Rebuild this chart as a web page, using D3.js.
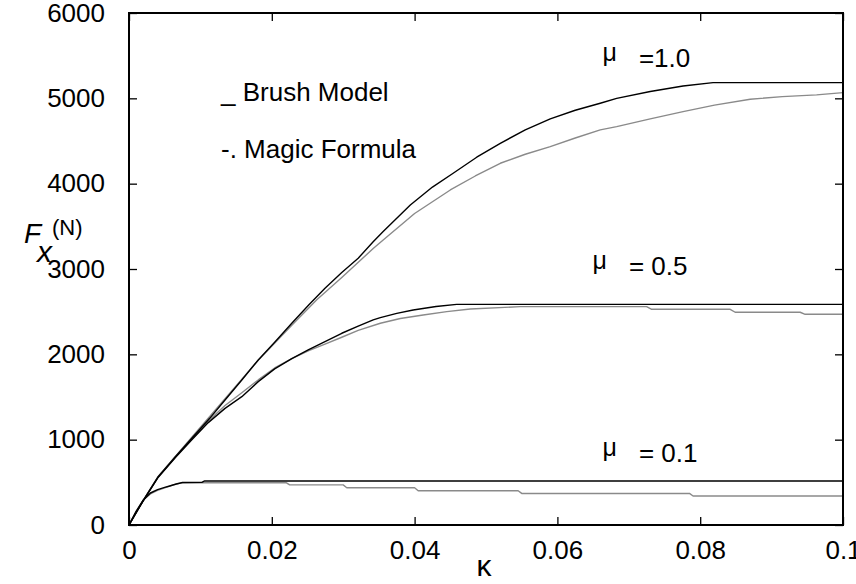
<!DOCTYPE html>
<html>
<head>
<meta charset="utf-8">
<script src="https://cdn.jsdelivr.net/npm/d3@7"></script>
<style>
  html, body { margin: 0; padding: 0; background: #fff; }
  svg { display: block; }
  text { font-family: "Liberation Sans", Arial, sans-serif; fill: #000; }
</style>
</head>
<body>
<svg id="chart" width="856" height="584"></svg>
<script>
// Longitudinal force Fx (N) against slip ratio κ for three friction levels.
const xTicks = [0, 0.02, 0.04, 0.06, 0.08, 0.1];
const xTickLabels = ["0", "0.02", "0.04", "0.06", "0.08", "0.1"];
const yTicks = [0, 1000, 2000, 3000, 4000, 5000, 6000];
const yTickLabels = ["0", "1000", "2000", "3000", "4000", "5000", "6000"];

// Brush model, μ = 1.0  ([κ, Fx])
const brushMu10 = [[0,0],[0.001,145],[0.002,285],[0.003,420],[0.0041,566],[0.0065,800],[0.0088,1016],
  [0.0113,1250],[0.01345,1465],[0.0158,1700],[0.0181,1934],[0.0205,2150],[0.0228,2364],[0.0252,2580],
  [0.02745,2774],[0.0298,2960],[0.0321,3126],[0.0342,3320],[0.0356,3440],[0.0394,3750],[0.0425,3960],
  [0.0454,4122],[0.0487,4310],[0.052,4473],[0.0555,4630],[0.059,4760],[0.0625,4860],[0.066,4942],
  [0.0683,5000],[0.073,5080],[0.0776,5145],[0.0818,5184],[0.1,5184]];
// Magic Formula, μ = 1.0
const magicMu10 = [[0,0],[0.001,145],[0.002,290],[0.0041,570],[0.0088,1030],[0.01345,1480],[0.0181,1930],
  [0.0228,2340],[0.0263,2640],[0.0298,2900],[0.0342,3240],[0.0356,3340],[0.040,3650],[0.045,3926],
  [0.0485,4090],[0.052,4239],[0.0555,4345],[0.059,4434],[0.0625,4535],[0.066,4630],[0.0683,4668],
  [0.073,4760],[0.0776,4844],[0.082,4920],[0.087,4989],[0.0915,5020],[0.0963,5040],[0.1,5067]];
// Brush model, μ = 0.5
const brushMu05 = [[0,0],[0.001,145],[0.002,285],[0.0041,560],[0.0065,790],[0.0088,1000],[0.0111,1200],
  [0.01345,1367],[0.0158,1504],[0.0181,1680],[0.0204,1830],[0.0228,1950],[0.0251,2051],[0.02745,2149],
  [0.0298,2247],[0.0321,2330],[0.0342,2403],[0.0352,2430],[0.0375,2480],[0.0398,2520],[0.043,2560],
  [0.0459,2586],[0.1,2586]];
// Magic Formula, μ = 0.5
const magicMu05 = [[0,0],[0.001,145],[0.002,290],[0.0041,570],[0.0065,800],[0.0088,1010],[0.0111,1220],
  [0.01345,1400],[0.0158,1550],[0.0181,1700],[0.0204,1840],[0.0228,1950],[0.0251,2040],[0.02745,2120],
  [0.0298,2200],[0.0321,2280],[0.0352,2364],[0.038,2420],[0.0412,2461],[0.0445,2500],[0.0478,2532],
  [0.0548,2559],[0.0725,2559],[0.0732,2528],[0.0842,2528],[0.0849,2493],[0.094,2493],[0.0947,2469],[0.1,2469]];
// Brush model, μ = 0.1
const brushMu01 = [[0,0],[0.001,160],[0.002,290],[0.003,375],[0.004,415],[0.005,440],[0.0057,457],
  [0.0066,480],[0.0075,498],[0.0102,500],[0.0106,516],[0.1,516]];
// Magic Formula, μ = 0.1
const magicMu01 = [[0,0],[0.001,160],[0.002,295],[0.003,365],[0.004,405],[0.005,436],[0.006,465],
  [0.0075,496],[0.022,496],[0.0225,470],[0.030,470],[0.0305,437],[0.040,437],[0.0405,402],
  [0.0545,402],[0.055,370],[0.0785,370],[0.079,340],[0.1,340]];

const series = [
  { data: magicMu10, color: "#8a8a8a" },
  { data: magicMu05, color: "#8a8a8a" },
  { data: magicMu01, color: "#8a8a8a" },
  { data: brushMu10, color: "#000" },
  { data: brushMu05, color: "#000" },
  { data: brushMu01, color: "#000" }
];

const muLabels = [
  { text: "=1.0", k: 0.0666, f: 5370 },
  { text: "= 0.5", k: 0.0652, f: 2930 },
  { text: "= 0.1", k: 0.0666, f: 740 }
];

const W = 856, H = 584;
const margin = { top: 13, right: 13, bottom: 59, left: 129 };
const svg = d3.select("#chart");

const x = d3.scaleLinear().domain([0, 0.1]).range([margin.left, W - margin.right]);
const y = d3.scaleLinear().domain([0, 6000]).range([H - margin.bottom, margin.top]);

const fontSize = 26;

// Inward ticks on all four sides of the frame
const tickLen = 8;
const axisBottom = d3.axisBottom(x).tickValues(xTicks).tickSize(-tickLen).tickPadding(tickLen + 8)
  .tickFormat((d, i) => xTickLabels[i]);
const axisTop = d3.axisTop(x).tickValues(xTicks).tickSize(-tickLen).tickFormat("");
const axisLeft = d3.axisLeft(y).tickValues(yTicks).tickSize(-tickLen).tickPadding(tickLen + 16)
  .tickFormat((d, i) => yTickLabels[i]);
const axisRight = d3.axisRight(y).tickValues(yTicks).tickSize(-tickLen).tickFormat("");

function styleAxis(g) {
  g.select(".domain").remove();
  g.selectAll(".tick line").attr("stroke", "#000").attr("stroke-width", 1.3);
  g.selectAll(".tick text").attr("font-size", fontSize).attr("font-family", "Liberation Sans, Arial, sans-serif").attr("fill", "#000");
}

svg.append("g").attr("transform", `translate(0,${y(0)})`).call(axisBottom).call(styleAxis);
svg.append("g").attr("transform", `translate(0,${y(6000)})`).call(axisTop).call(styleAxis);
svg.append("g").attr("transform", `translate(${x(0)},0)`).call(axisLeft).call(styleAxis);
svg.append("g").attr("transform", `translate(${x(0.1)},0)`).call(axisRight).call(styleAxis);

// Curves
const line = d3.line().x(d => x(d[0])).y(d => y(d[1])).curve(d3.curveLinear);
svg.append("g").selectAll("path").data(series).join("path")
  .attr("d", d => line(d.data))
  .attr("fill", "none")
  .attr("stroke", d => d.color)
  .attr("stroke-width", 1.4)
  .attr("stroke-linejoin", "round");

// Frame
svg.append("rect")
  .attr("x", x(0)).attr("y", y(6000))
  .attr("width", x(0.1) - x(0)).attr("height", y(0) - y(6000))
  .attr("fill", "none").attr("stroke", "#000").attr("stroke-width", 2);

// Friction labels
const ml = svg.append("g").selectAll("text").data(muLabels).join("text")
  .attr("x", d => x(d.k) - 2).attr("y", d => y(d.f))
  .attr("font-size", fontSize);
ml.append("tspan").attr("font-size", 25).attr("dy", -6).text("μ");
ml.append("tspan").attr("dy", 6).attr("dx", 22).text(d => d.text);

// Legend text
svg.append("text").attr("x", 221).attr("y", 101).attr("font-size", fontSize).text("_ Brush Model");
svg.append("text").attr("x", 221).attr("y", 158).attr("font-size", fontSize).text("-. Magic Formula");

// Axis titles
const yl = svg.append("g");
yl.append("text").attr("x", 24).attr("y", 243)
  .attr("font-family", "Liberation Serif, Times New Roman, serif").attr("font-style", "italic")
  .attr("font-size", 28).text("F");
yl.append("text").attr("x", 37).attr("y", 262)
  .attr("font-family", "Liberation Serif, Times New Roman, serif").attr("font-style", "italic")
  .attr("font-size", 30).text("x");
yl.append("text").attr("x", 52).attr("y", 235).attr("font-size", 22).text("(N)");

svg.append("text").attr("x", 484).attr("y", 576).attr("text-anchor", "middle")
  .attr("font-family", "Liberation Serif, Times New Roman, serif").attr("font-size", 30).text("κ");
</script>
</body>
</html>
